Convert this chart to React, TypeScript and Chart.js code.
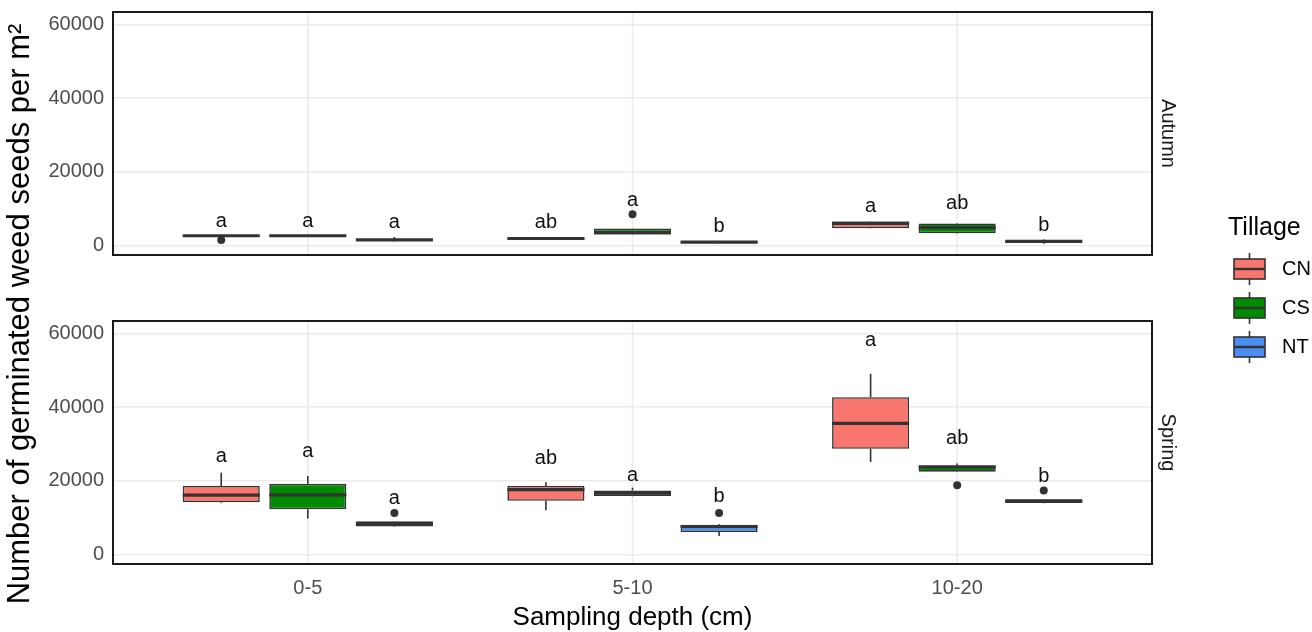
import React, { useEffect, useRef } from 'react';
import { Chart, registerables } from 'chart.js';

Chart.register(...registerables);

// ---------- data ----------
const depthLabels = ['0-5', '5-10', '10-20'];
const depthPos = [1, 2, 3];
const tillages = ['CN', 'CS', 'NT'];
const seasons = ['Autumn', 'Spring'];
const fillColors = ['#F8766D', '#008B00', '#4B8EF0'];

const yMajorTicks = [0, 20000, 40000, 60000];
const yMinorTicks = [10000, 30000, 50000];

// [lower whisker, q1, median, q3, upper whisker] for each depth
const autumnCN = [[2400, 2500, 2650, 2800, 2900], [1500, 1600, 1900, 2200, 2300], [4600, 4700, 6000, 6500, 6600]];
const autumnCS = [[2500, 2550, 2650, 2750, 2800], [2900, 3000, 3500, 4600, 4700], [3200, 3300, 4850, 6000, 6100]];
const autumnNT = [[1100, 1200, 1500, 1700, 2300], [600, 700, 900, 1100, 1200], [500, 700, 1100, 1400, 1600]];
const springCN = [[14000, 14200, 16100, 18600, 22200], [12000, 14600, 17600, 18600, 19600], [25100, 28700, 35600, 42700, 49100]];
const springCS = [[9800, 12300, 16200, 19200, 21300], [15800, 15900, 16700, 17400, 18100], [22400, 22500, 23800, 24100, 24700]];
const springNT = [[7500, 7600, 8300, 9000, 9100], [5000, 6100, 7600, 8100, 8300], [13900, 14000, 14500, 15000, 15100]];

// outliers for each depth
const autumnCNOut = [[1500], [], []];
const autumnCSOut = [[], [8500], []];
const autumnNTOut = [[], [], []];
const springCNOut = [[], [], []];
const springCSOut = [[], [], [18800]];
const springNTOut = [[11300], [11300], [17400]];

// significance letters and their heights
const autumnCNLetters = ['a', 'ab', 'a'];
const autumnCSLetters = ['a', 'a', 'ab'];
const autumnNTLetters = ['a', 'b', 'b'];
const springCNLetters = ['a', 'ab', 'a'];
const springCSLetters = ['a', 'a', 'ab'];
const springNTLetters = ['a', 'b', 'b'];

const autumnCNLetterY = [6500, 6200, 10700];
const autumnCSLetterY = [6500, 12350, 11300];
const autumnNTLetterY = [6200, 5100, 5300];
const springCNLetterY = [26700, 26000, 58200];
const springCSLetterY = [27900, 21450, 31500];
const springNTLetterY = [15100, 15700, 21300];

type Series = {
  season: number;
  till: number;
  stats: number[][];
  out: number[][];
  letters: string[];
  letterY: number[];
};

const series: Series[] = [
  { season: 0, till: 0, stats: autumnCN, out: autumnCNOut, letters: autumnCNLetters, letterY: autumnCNLetterY },
  { season: 0, till: 1, stats: autumnCS, out: autumnCSOut, letters: autumnCSLetters, letterY: autumnCSLetterY },
  { season: 0, till: 2, stats: autumnNT, out: autumnNTOut, letters: autumnNTLetters, letterY: autumnNTLetterY },
  { season: 1, till: 0, stats: springCN, out: springCNOut, letters: springCNLetters, letterY: springCNLetterY },
  { season: 1, till: 1, stats: springCS, out: springCSOut, letters: springCSLetters, letterY: springCSLetterY },
  { season: 1, till: 2, stats: springNT, out: springNTOut, letters: springNTLetters, letterY: springNTLetterY },
];

const yAxisIds = ['yA', 'yS'];

// ---------- style ----------
const FONT = '"Liberation Sans", Arial, sans-serif';
const DARK = '#333333';
const GRID = '#EBEBEB';

const decorPlugin = {
  id: 'boxDecor',
  beforeDatasetsDraw(chart: any) {
    const ctx = chart.ctx;
    const xs = chart.scales.x;
    ctx.save();
    ctx.strokeStyle = GRID;
    ctx.lineWidth = 1.5;
    for (const id of yAxisIds) {
      const ys = chart.scales[id];
      for (const v of depthPos) {
        const px = xs.getPixelForValue(v);
        ctx.beginPath();
        ctx.moveTo(px, ys.top);
        ctx.lineTo(px, ys.bottom);
        ctx.stroke();
      }
    }
    ctx.strokeStyle = DARK;
    ctx.lineWidth = 1.6;
    series.forEach((s, di) => {
      const meta = chart.getDatasetMeta(di);
      const ys = chart.scales[yAxisIds[s.season]];
      meta.data.forEach((el: any, i: number) => {
        const st = s.stats[i];
        ctx.beginPath();
        ctx.moveTo(el.x, ys.getPixelForValue(st[0]));
        ctx.lineTo(el.x, ys.getPixelForValue(st[1]));
        ctx.moveTo(el.x, ys.getPixelForValue(st[3]));
        ctx.lineTo(el.x, ys.getPixelForValue(st[4]));
        ctx.stroke();
      });
    });
    ctx.restore();
  },
  afterDatasetsDraw(chart: any) {
    const ctx = chart.ctx;
    const area = chart.chartArea;
    ctx.save();
    series.forEach((s, di) => {
      const meta = chart.getDatasetMeta(di);
      const ys = chart.scales[yAxisIds[s.season]];
      meta.data.forEach((el: any, i: number) => {
        const st = s.stats[i];
        const half = el.width / 2;
        ctx.strokeStyle = DARK;
        ctx.lineWidth = 3.2;
        ctx.beginPath();
        const my = ys.getPixelForValue(st[2]);
        ctx.moveTo(el.x - half, my);
        ctx.lineTo(el.x + half, my);
        ctx.stroke();
        ctx.fillStyle = DARK;
        for (const o of s.out[i]) {
          ctx.beginPath();
          ctx.arc(el.x, ys.getPixelForValue(o), 4, 0, Math.PI * 2);
          ctx.fill();
        }
        ctx.fillStyle = '#111111';
        ctx.font = `20px ${FONT}`;
        ctx.textAlign = 'center';
        ctx.textBaseline = 'middle';
        ctx.fillText(s.letters[i], el.x, ys.getPixelForValue(s.letterY[i]));
      });
    });
    ctx.strokeStyle = '#1A1A1A';
    ctx.lineWidth = 2;
    for (const id of yAxisIds) {
      const ys = chart.scales[id];
      ctx.strokeRect(area.left, ys.top, area.right - area.left, ys.bottom - ys.top);
    }
    ctx.restore();
  },
  afterDraw(chart: any) {
    const ctx = chart.ctx;
    const area = chart.chartArea;
    ctx.save();
    ctx.fillStyle = '#000000';
    ctx.font = `31px ${FONT}`;
    ctx.textAlign = 'center';
    ctx.textBaseline = 'middle';
    ctx.translate(20, 314);
    ctx.rotate(-Math.PI / 2);
    ctx.fillText('Number of germinated weed seeds per m²', 0, 0);
    ctx.restore();

    ctx.save();
    ctx.fillStyle = '#1A1A1A';
    ctx.font = `20px ${FONT}`;
    ctx.textAlign = 'center';
    ctx.textBaseline = 'middle';
    yAxisIds.forEach((id, k) => {
      const ys = chart.scales[id];
      ctx.save();
      ctx.translate(area.right + 16, (ys.top + ys.bottom) / 2);
      ctx.rotate(Math.PI / 2);
      ctx.fillText(seasons[k], 0, 0);
      ctx.restore();
    });
    ctx.restore();

    ctx.save();
    const lx = area.right + 76;
    ctx.fillStyle = '#000000';
    ctx.font = `25px ${FONT}`;
    ctx.textAlign = 'left';
    ctx.textBaseline = 'middle';
    ctx.fillText('Tillage', lx, 228);
    tillages.forEach((t, k) => {
      const cy = 269 + k * 39;
      const bx = lx + 6;
      const bw = 31;
      ctx.strokeStyle = DARK;
      ctx.lineWidth = 1.6;
      ctx.beginPath();
      ctx.moveTo(bx + bw / 2, cy - 16);
      ctx.lineTo(bx + bw / 2, cy + 16);
      ctx.stroke();
      ctx.fillStyle = fillColors[k];
      ctx.fillRect(bx, cy - 10, bw, 20);
      ctx.strokeRect(bx, cy - 10, bw, 20);
      ctx.lineWidth = 2.4;
      ctx.beginPath();
      ctx.moveTo(bx, cy);
      ctx.lineTo(bx + bw, cy);
      ctx.stroke();
      ctx.fillStyle = '#000000';
      ctx.font = `20px ${FONT}`;
      ctx.fillText(t, lx + 54, cy);
    });
    ctx.restore();
  },
};

function yScale(weight: number) {
  return {
    type: 'linear',
    position: 'left',
    stack: 'panels',
    stackWeight: 243,
    weight,
    stacked: false,
    min: -2580,
    max: 63400,
    afterBuildTicks: (s: any) => {
      s.ticks = [...yMajorTicks, ...yMinorTicks].sort((a, b) => a - b).map((v) => ({ value: v }));
    },
    afterFit: (s: any) => {
      s.width = 113;
      s.paddingTop = 0;
      s.paddingBottom = 0;
    },
    ticks: {
      callback: (v: number) => (yMajorTicks.includes(v) ? String(v) : ''),
      color: '#4D4D4D',
      font: { size: 20, family: FONT },
      padding: 9,
    },
    grid: {
      color: GRID,
      lineWidth: (c: any) => (c.tick && yMajorTicks.includes(c.tick.value) ? 1.5 : 0.8),
      drawTicks: false,
    },
    border: { display: false },
  };
}

export default function App() {
  const ref = useRef<HTMLCanvasElement | null>(null);
  useEffect(() => {
    document.body.style.margin = '0';
    if (!ref.current) return;
    const chart = new Chart(ref.current, {
      type: 'bar',
      data: {
        datasets: series.map((s) => ({
          type: 'bar',
          label: `${tillages[s.till]} ${seasons[s.season]}`,
          stack: tillages[s.till],
          yAxisID: yAxisIds[s.season],
          data: depthPos.map((x, i) => ({ x, y: [s.stats[i][1], s.stats[i][3]] })),
          backgroundColor: fillColors[s.till],
          borderColor: DARK,
          borderWidth: 1.6,
          borderSkipped: false,
          categoryPercentage: 0.8,
          barPercentage: 0.89,
        })),
      } as any,
      options: {
        animation: false,
        responsive: false,
        devicePixelRatio: 1,
        layout: { padding: { top: 12, right: 160, left: 0, bottom: 0 } },
        plugins: { legend: { display: false }, tooltip: { enabled: false } },
        scales: {
          x: {
            type: 'linear',
            offset: false,
            min: 0.4,
            max: 3.6,
            afterBuildTicks: (s: any) => {
              s.ticks = depthPos.map((v) => ({ value: v }));
            },
            afterFit: (s: any) => {
              s.height = 68;
            },
            ticks: {
              callback: (v: number) => depthLabels[depthPos.indexOf(v)] ?? '',
              color: '#4D4D4D',
              font: { size: 20, family: FONT },
              padding: 12,
              maxRotation: 0,
              autoSkip: false,
            },
            grid: { display: false, drawTicks: false },
            border: { display: false },
            title: {
              display: true,
              text: 'Sampling depth (cm)',
              color: '#000000',
              font: { size: 26, family: FONT, lineHeight: 1 },
              padding: { top: 0, bottom: 1 },
            },
          },
          yA: yScale(3),
          yGap: {
            type: 'linear',
            position: 'left',
            stack: 'panels',
            stackWeight: 66,
            weight: 2,
            min: 0,
            max: 1,
            afterFit: (s: any) => {
              s.width = 113;
              s.paddingTop = 0;
              s.paddingBottom = 0;
            },
            ticks: { display: false },
            grid: { display: false },
            border: { display: false },
          },
          yS: yScale(1),
        } as any,
      },
      plugins: [decorPlugin],
    });
    return () => chart.destroy();
  }, []);
  return (
    <div style={{ width: 1312, height: 632 }}>
      <canvas ref={ref} width={1312} height={632} />
    </div>
  );
}
